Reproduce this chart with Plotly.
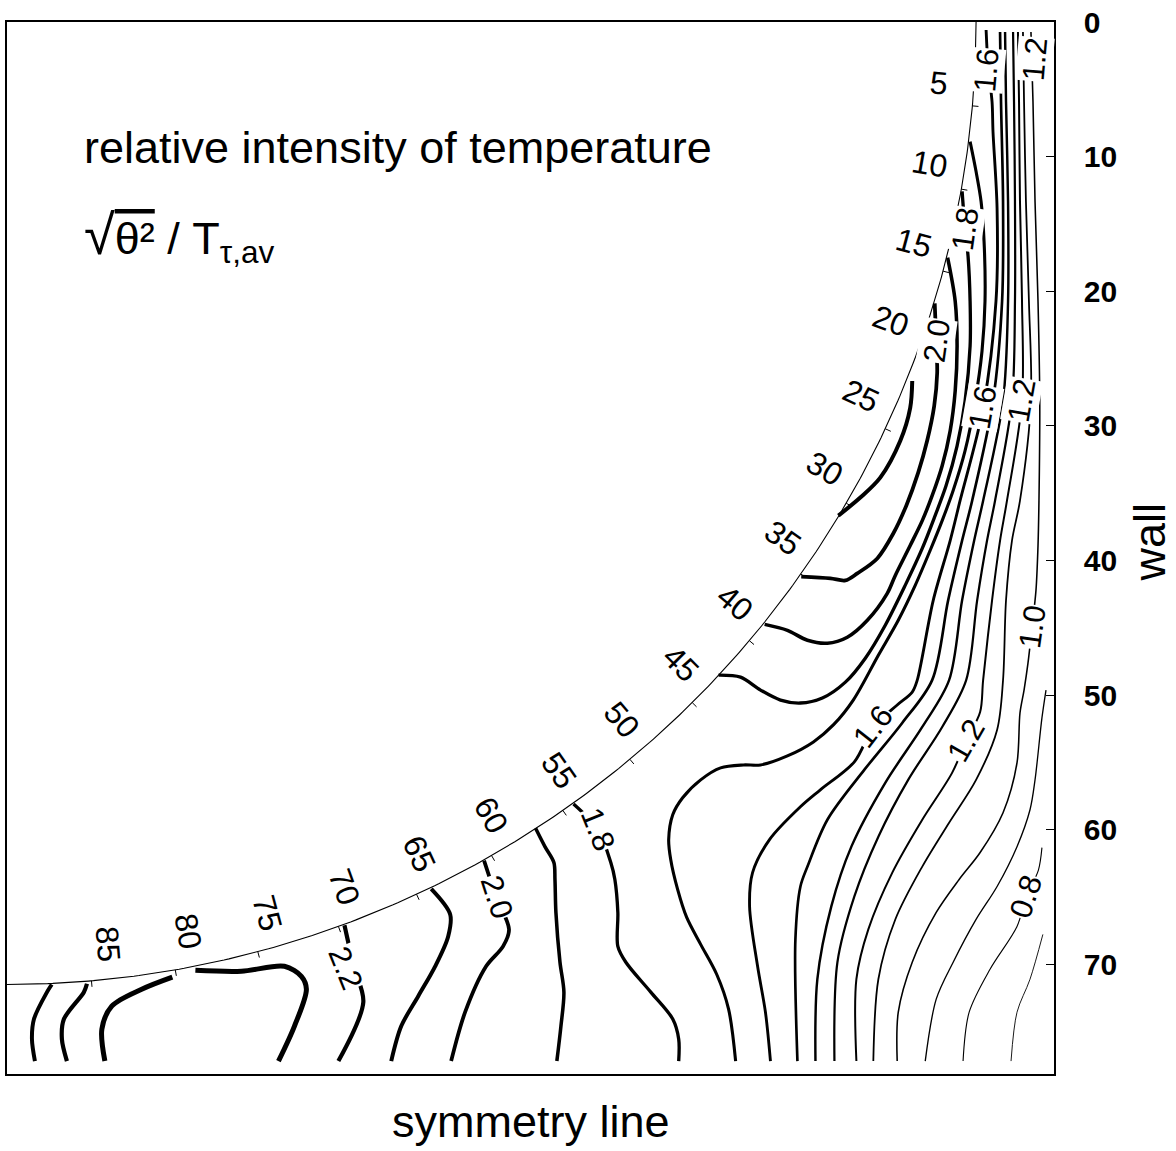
import numpy as np
import plotly.graph_objects as go

# ---- geometry (wall units) ----
X_MAX = 77.25          # symmetry line runs from x = 0 to the wall
Y_MAX = 78.15          # distance from the top edge
ARC_R = 71.5           # radius of the curved boundary, centred at the top-left corner

# angle marks along the curved boundary (degrees)
arc_angles = [5, 10, 15, 20, 25, 30, 35, 40, 45, 50, 55, 60, 65, 70, 75, 80, 85]

# wall axis ticks
wall_ticks = [0, 10, 20, 30, 40, 50, 60, 70]

# ---- digitized isolines of sqrt(theta^2)/T_tau,av ----
c07_x = [76.43, 75.48, 74.52, 74.08]
c07_y = [67.78, 71.11, 73.56, 77.19]

c08_x = [76.36, 76.1, 75.2, 74.52, 72.53, 70.99, 70.54]
c08_y = [61.33, 63.0, 65.0, 67.19, 70.37, 73.56, 77.19]

c09_x = [76.66, 76.36, 75.85, 75.48, 74.52, 73.05, 71.5, 69.81, 68.56, 67.75]
c09_y = [49.63, 51.7, 56.3, 58.52, 61.26, 64.22, 66.67, 69.85, 72.59, 77.19]

c10_x = [75.55, 75.7, 75.85, 76.07, 76.2, 76.14, 76.07, 75.92, 75.63, 75.33,
         75.04, 74.74, 74.52, 73.49, 71.8, 70.25, 68.56, 66.79, 65.76, 65.68]
c10_y = [0.74, 5.93, 13.33, 20.74, 28.15, 35.56, 38.89, 42.22, 44.96, 47.63,
         49.63, 51.33, 55.04, 58.74, 61.7, 63.7, 66.15, 69.85, 73.56, 77.19]

c11_x = [74.96, 75.04, 75.18, 75.4, 75.55, 74.74, 74.15, 73.71, 73.49, 73.05,
         71.5, 69.51, 67.53, 65.54, 64.29, 63.92]
c11_y = [0.74, 5.93, 13.33, 20.74, 28.15, 35.56, 38.52, 42.96, 48.89, 52.59,
         56.3, 59.48, 62.74, 66.67, 71.11, 77.19]

c12_x = [74.59, 74.67, 74.74, 74.89, 74.89, 73.78, 73.27, 72.68, 72.02, 71.8,
         70.77, 69.73, 67.53, 65.32, 63.55, 62.67, 62.67]
c12_y = [0.74, 5.93, 13.33, 20.74, 28.15, 35.56, 38.52, 42.96, 48.89, 51.26,
         53.41, 55.78, 59.26, 63.19, 67.41, 71.11, 77.19]

c13_x = [74.23, 74.3, 74.37, 74.37, 74.15, 72.9, 72.31, 71.58, 70.77, 69.0,
         66.49, 64.29, 62.52, 61.27, 61.05]
c13_y = [0.74, 5.93, 13.33, 20.74, 28.15, 35.56, 38.52, 42.96, 48.89, 52.37,
         56.3, 60.52, 64.96, 69.85, 77.19]

c14_x = [73.64, 73.71, 73.86, 73.86, 73.49, 72.02, 71.36, 70.47, 69.51, 67.53,
         64.8, 62.3, 60.82, 59.79, 59.65]
c14_y = [0.74, 5.93, 13.33, 20.74, 28.15, 35.56, 38.52, 42.96, 48.89, 52.37,
         56.52, 61.26, 65.7, 71.11, 77.19]

c15_x = [73.27, 73.34, 73.49, 73.42, 72.75, 71.21, 70.47, 69.44, 68.26, 66.05,
         63.25, 60.53, 59.06, 58.54, 58.17, 58.32]
c15_y = [0.74, 5.93, 13.33, 20.74, 28.15, 35.56, 38.52, 42.96, 48.89, 52.07,
         55.56, 59.26, 62.74, 64.22, 68.15, 77.19]

c16_x = [72.24, 72.39, 72.68, 72.75, 73.05, 72.97, 72.02, 70.32, 69.59, 68.34,
         67.16, 66.79, 65.68, 63.92, 62.52, 60.01, 58.54, 56.26, 55.01, 54.79,
         55.38, 55.96, 56.33]
c16_y = [0.59, 3.33, 5.93, 8.15, 13.85, 20.74, 28.67, 35.56, 38.52, 42.96,
         48.89, 49.78, 50.74, 52.37, 54.96, 57.04, 58.3, 60.74, 63.19, 65.7,
         70.15, 73.56, 77.19]

c17_x = [71.06, 71.5, 71.87, 72.09, 72.16, 71.94, 71.43, 70.69, 69.81, 69.0,
         68.11, 67.01, 65.76, 64.29, 62.44, 60.97, 59.5, 57.58, 55.6, 54.34,
         52.65, 51.18, 49.85, 49.12, 48.82, 48.97, 49.48, 50.15, 51.18, 52.36,
         53.24, 53.76]
c17_y = [8.89, 11.11, 13.33, 16.3, 20.74, 24.44, 28.15, 31.85, 34.81, 37.04,
         39.26, 41.85, 44.44, 47.04, 50.37, 52.22, 53.48, 54.52, 55.19, 55.19,
         55.41, 56.3, 57.63, 58.89, 60.74, 62.22, 64.44, 66.52, 68.52, 70.74,
         73.33, 77.19]

c18a_x = [70.47, 70.69, 70.91, 71.06, 71.06, 70.69, 70.1, 69.29, 68.48, 67.53,
          66.27, 64.8, 63.33, 61.86, 60.16, 58.54, 57.07, 55.6, 54.12, 52.5]
c18a_y = [12.59, 15.41, 17.41, 20.74, 24.07, 28.15, 31.48, 34.44, 36.67, 39.11,
          41.85, 44.81, 47.26, 49.04, 50.22, 50.59, 50.37, 49.63, 48.67, 48.52]

c18b_x = [41.8, 43.6, 44.55, 44.85, 45.07, 45.07, 45.66, 47.5, 49.12, 49.56, 49.56]
c18b_y = [58.1, 60.0, 62.44, 63.7, 66.15, 68.67, 69.85, 72.07, 74.07, 75.56, 77.19]

c19a_x = [69.4, 69.96, 70.1, 69.96, 69.59, 69.0, 68.26, 67.53, 66.64, 65.54,
          64.95, 63.48, 62.0, 60.53, 59.06, 57.58, 55.9]
c19a_y = [17.5, 20.74, 24.07, 27.41, 30.37, 32.96, 35.19, 37.04, 38.89, 41.11,
          42.44, 44.44, 45.7, 46.15, 45.93, 45.19, 44.75]

c19b_x = [39.0, 39.69, 40.35, 40.43, 40.5, 40.8, 41.09, 40.87, 40.57]
c19b_y = [59.9, 61.26, 62.44, 63.7, 66.15, 69.85, 72.07, 74.59, 77.19]

c20a_x = [68.45, 68.56, 68.63, 68.41, 67.89, 67.23, 66.35, 65.39, 64.21, 62.74,
          61.86, 60.75, 58.6]
c20a_y = [20.9, 23.7, 26.07, 28.52, 31.11, 33.48, 35.93, 38.0, 39.85, 40.96,
          41.48, 41.33, 41.2]

c20b_x = [35.2, 36.1, 37.04, 36.6, 35.35, 33.8, 32.77]
c20b_y = [62.3, 65.0, 67.41, 68.67, 70.15, 73.56, 77.19]

c21a_x = [66.79, 66.64, 65.91, 64.43, 62.96, 61.34]
c21a_y = [26.67, 28.67, 31.11, 33.85, 35.33, 36.67]

c21b_x = [31.3, 32.7, 32.55, 31.59, 30.34, 29.09, 28.35]
c21b_y = [64.4, 66.3, 67.93, 70.15, 72.37, 74.59, 77.19]

c21c_x = [3.3, 2.95, 1.99, 1.84, 2.06]
c21c_y = [71.5, 72.07, 74.07, 75.56, 77.19]

c22a_x = [5.9, 5.67, 4.2, 4.05, 4.42]
c22a_y = [71.45, 72.07, 74.07, 75.56, 77.19]

c22b_x = [24.9, 25.6, 26.29, 24.45]
c22b_y = [67.1, 70.2, 72.81, 77.19]

c23a_x = [7.22, 7.0, 7.73, 9.94, 12.2]
c23a_y = [77.19, 74.81, 73.11, 71.85, 70.95]

c23b_x = [13.9, 17.3, 20.47, 21.72, 22.09, 21.21, 20.03]
c23b_y = [70.45, 70.52, 70.15, 70.89, 71.85, 74.59, 77.19]

isolines = [
    (0.7, c07_x, c07_y), (0.8, c08_x, c08_y), (0.9, c09_x, c09_y),
    (1.0, c10_x, c10_y), (1.1, c11_x, c11_y), (1.2, c12_x, c12_y),
    (1.3, c13_x, c13_y), (1.4, c14_x, c14_y), (1.5, c15_x, c15_y),
    (1.6, c16_x, c16_y), (1.7, c17_x, c17_y),
    (1.8, c18a_x, c18a_y), (1.8, c18b_x, c18b_y),
    (1.9, c19a_x, c19a_y), (1.9, c19b_x, c19b_y),
    (2.0, c20a_x, c20a_y), (2.0, c20b_x, c20b_y),
    (2.1, c21a_x, c21a_y), (2.1, c21b_x, c21b_y), (2.1, c21c_x, c21c_y),
    (2.2, c22a_x, c22a_y), (2.2, c22b_x, c22b_y),
    (2.3, c23a_x, c23a_y), (2.3, c23b_x, c23b_y),
]

# isoline labels
lab_text = ["1.6", "1.2", "1.8", "2.0", "1.6", "1.2", "1.0", "1.6", "1.2", "0.8", "1.8", "2.0", "2.2"]
lab_x = [72.3, 75.85, 70.69, 68.56, 72.02, 74.89, 75.63, 63.92, 70.77, 75.2, 43.6, 36.1, 25.0]
lab_y = [3.56, 2.8, 15.41, 23.7, 28.67, 28.15, 44.96, 52.37, 53.41, 65.0, 60.0, 65.0, 70.3]
lab_ang = [-85, -85, -82, -82, -80, -80, -82, -52, -60, -72, 68, 72, 68]

FONT = "Liberation Sans, Arial, sans-serif"

fig = go.Figure()


def line_width(level):
    if level >= 2.25:
        return 5.0
    return 0.9 + (level - 0.7) * 2.2


for level, xs, ys in isolines:
    fig.add_trace(go.Scatter(
        x=xs, y=ys, mode="lines",
        line=dict(color="black", width=line_width(level), shape="spline", smoothing=0.9),
        hoverinfo="skip", showlegend=False,
    ))

# curved boundary
th = np.radians(np.linspace(0, 90, 300))
fig.add_trace(go.Scatter(
    x=ARC_R * np.cos(th), y=ARC_R * np.sin(th), mode="lines",
    line=dict(color="black", width=1.1), hoverinfo="skip", showlegend=False,
))

# small marks on the boundary, pointing outward
tx, ty = [], []
for a in arc_angles:
    r = np.radians(a)
    tx += [ARC_R * np.cos(r), (ARC_R + 0.45) * np.cos(r), None]
    ty += [ARC_R * np.sin(r), (ARC_R + 0.45) * np.sin(r), None]
fig.add_trace(go.Scatter(x=tx, y=ty, mode="lines", line=dict(color="black", width=1),
                         hoverinfo="skip", showlegend=False))

annotations = []
for a in arc_angles:
    r = np.radians(a - 1.2)
    annotations.append(dict(
        x=68.9 * np.cos(r), y=68.9 * np.sin(r), xref="x", yref="y",
        text=str(a), showarrow=False, textangle=a,
        font=dict(family=FONT, size=32, color="black"),
        xanchor="center", yanchor="middle",
    ))

for t, x, y, ang in zip(lab_text, lab_x, lab_y, lab_ang):
    annotations.append(dict(
        x=x, y=y, xref="x", yref="y", text=t, showarrow=False, textangle=ang,
        font=dict(family=FONT, size=31, color="black"),
        bgcolor="white", borderpad=0, xanchor="center", yanchor="middle",
    ))

# headings
annotations.append(dict(
    x=0.0715, y=0.8806, xref="paper", yref="paper", xanchor="left", yanchor="middle",
    text="relative intensity of temperature", showarrow=False,
    font=dict(family=FONT, size=45, color="black"),
))
annotations.append(dict(
    x=0.0715, y=0.796, xref="paper", yref="paper", xanchor="left", yanchor="middle",
    text="<span style='font-size:56px'>√</span><span style='text-decoration:overline'>θ²</span> / T<sub>τ,av</sub>",
    showarrow=False, font=dict(family=FONT, size=45, color="black"),
))
annotations.append(dict(
    x=0.5, y=-0.0455, xref="paper", yref="paper", xanchor="center", yanchor="middle",
    text="symmetry line", showarrow=False,
    font=dict(family=FONT, size=45, color="black"),
))
annotations.append(dict(
    x=1.0915, y=0.506, xref="paper", yref="paper", xanchor="center", yanchor="middle",
    text="wall", showarrow=False, textangle=-90,
    font=dict(family=FONT, size=45, color="black"),
))

fig.update_layout(
    width=1176, height=1151,
    margin=dict(l=5, r=122, t=19, b=77),
    paper_bgcolor="white", plot_bgcolor="white",
    showlegend=False,
    annotations=annotations,
    xaxis=dict(range=[0, X_MAX], showgrid=False, zeroline=False, showticklabels=False,
               ticks="", showline=True, linecolor="black", linewidth=1.5, mirror=True),
    yaxis=dict(range=[Y_MAX, 0], side="right", showgrid=False, zeroline=False,
               tickvals=wall_ticks, ticks="inside", ticklen=8, tickwidth=1.2,
               tickcolor="black", ticklabelstandoff=22,
               tickfont=dict(family=FONT, size=30, color="black", weight="bold"),
               showline=True, linecolor="black", linewidth=1.5, mirror=True),
)

fig.write_html("out.html")
